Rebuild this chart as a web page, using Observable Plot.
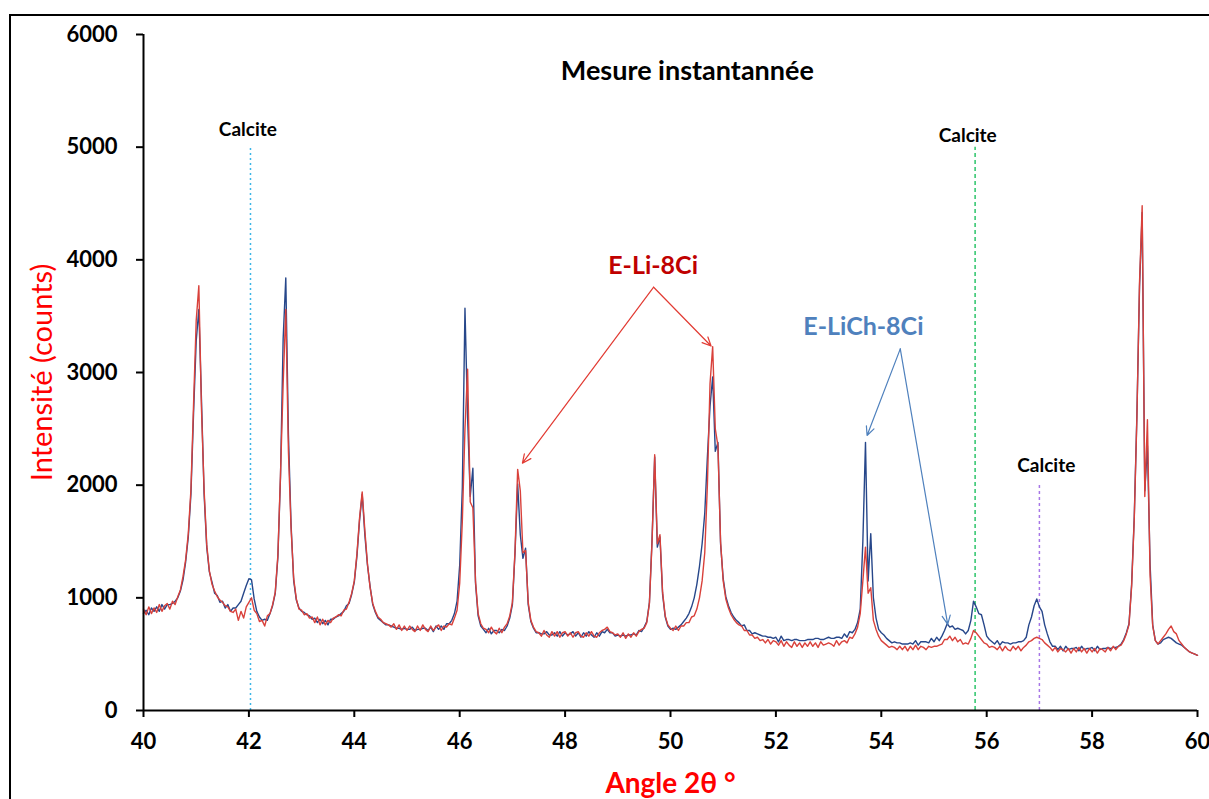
<!DOCTYPE html>
<html><head><meta charset="utf-8">
<script src="https://cdn.jsdelivr.net/npm/d3@7"></script>
<script src="https://cdn.jsdelivr.net/npm/@observablehq/plot@0.6"></script>
<style>
html,body{margin:0;padding:0;background:#fff;overflow:hidden;}
#wrap{position:relative;width:1209px;height:799px;}
#border{position:absolute;left:9px;top:14px;width:1400px;height:1000px;border:2px solid #000;box-sizing:border-box;pointer-events:none;}
</style></head>
<body><div id="wrap"></div>
<script>
// Scan grid (2θ, degrees)
const angleStart = 40, angleStep = 0.05;
// E-Li-8Ci (red) counts, one row per degree (40.00 ... 60.00)
const redCounts = [
 900, 850, 920, 860, 910, 870, 940, 880, 930, 950, 900, 970, 940, 1010, 1070, 1190, 1340, 1570, 1960, 2720,
 3460, 3770, 2680, 1960, 1470, 1240, 1120, 1060, 1010, 980, 960, 930, 920, 880, 870, 900, 800, 880, 820, 920,
 960, 1000, 890, 860, 790, 800, 750, 840, 860, 940, 1050, 1380, 2100, 2900, 3560, 2300, 1620, 1170, 990, 900,
 890, 850, 860, 820, 830, 780, 830, 760, 810, 760, 800, 780, 820, 830, 850, 840, 890, 900, 960, 1040,
 1150, 1390, 1710, 1940, 1600, 1300, 1090, 950, 880, 830, 810, 780, 770, 760, 740, 770, 720, 760, 710, 750,
 710, 750, 720, 700, 750, 710, 760, 720, 700, 750, 710, 740, 760, 710, 750, 740, 770, 760, 820, 890,
 1130, 1680, 2500, 3030, 1850, 1800, 1150, 860, 770, 730, 720, 690, 740, 700, 680, 730, 690, 740, 770, 840,
 960, 1420, 2140, 1950, 1400, 1420, 960, 800, 740, 700, 690, 660, 710, 670, 650, 700, 660, 700, 650, 690,
 700, 660, 690, 650, 690, 700, 660, 650, 690, 660, 700, 660, 650, 690, 710, 720, 740, 700, 690, 670,
 680, 650, 690, 640, 680, 650, 690, 660, 700, 720, 730, 780, 950, 1500, 2270, 1480, 1560, 1050, 840, 760,
 730, 710, 750, 710, 750, 750, 780, 780, 830, 840, 900, 1000, 1150, 1400, 2000, 2900, 3230, 2500, 2350, 1500,
 1150, 990, 910, 850, 810, 780, 760, 750, 710, 710, 670, 670, 640, 650, 620, 630, 600, 630, 590, 620,
 610, 580, 620, 570, 610, 580, 560, 610, 570, 600, 560, 600, 570, 610, 570, 600, 560, 610, 580, 590,
 600, 590, 570, 620, 580, 610, 620, 600, 650, 640, 680, 740, 860, 1150, 1450, 1040, 1090, 800, 720, 660,
 620, 600, 580, 560, 570, 560, 540, 570, 540, 570, 530, 570, 540, 580, 540, 570, 560, 540, 570, 560,
 570, 570, 580, 590, 630, 630, 660, 620, 650, 610, 630, 590, 600, 590, 640, 710, 690, 660, 630, 600,
 590, 560, 570, 560, 540, 570, 530, 570, 540, 530, 570, 540, 570, 530, 560, 580, 610, 620, 640, 650,
 640, 630, 600, 580, 560, 530, 560, 520, 550, 540, 520, 550, 510, 550, 520, 560, 520, 550, 510, 550,
 520, 550, 510, 550, 540, 520, 560, 530, 570, 540, 570, 580, 620, 680, 760, 1100, 1700, 2600, 3800, 4480,
 1900, 2580, 1200, 750, 620, 590, 620, 650, 680, 720, 750, 700, 680, 620, 590, 560, 540, 520, 510, 500,
 490
];
// E-LiCh-8Ci (dark blue) counts
const blueCounts = [
 860, 890, 850, 910, 880, 920, 880, 940, 900, 940, 940, 950, 970, 1000, 1060, 1160, 1320, 1540, 1920, 2640,
 3280, 3560, 2760, 1920, 1450, 1230, 1140, 1040, 1020, 960, 970, 910, 940, 880, 910, 910, 940, 970, 1040, 1110,
 1170, 1160, 990, 880, 830, 800, 810, 800, 860, 930, 1040, 1360, 2080, 3300, 3840, 2450, 1650, 1150, 980, 910,
 880, 870, 850, 840, 810, 820, 780, 810, 770, 800, 760, 810, 810, 830, 840, 860, 880, 930, 950, 1030,
 1140, 1370, 1690, 1920, 1560, 1290, 1100, 940, 870, 820, 800, 780, 760, 760, 750, 740, 730, 730, 720, 730,
 720, 720, 740, 710, 720, 720, 730, 730, 710, 740, 700, 750, 720, 750, 720, 770, 770, 800, 860, 970,
 1290, 1980, 3570, 2600, 1900, 2150, 1130, 840, 750, 720, 690, 730, 680, 710, 710, 690, 720, 710, 750, 820,
 940, 1400, 2010, 1560, 1350, 1440, 940, 790, 730, 690, 690, 680, 680, 700, 670, 670, 690, 660, 700, 660,
 690, 670, 680, 700, 660, 690, 650, 690, 660, 700, 670, 650, 690, 660, 700, 690, 720, 690, 690, 660,
 670, 660, 670, 660, 670, 670, 680, 670, 710, 700, 740, 790, 960, 1520, 2250, 1450, 1540, 1030, 830, 750,
 720, 730, 720, 740, 760, 790, 820, 860, 920, 1000, 1120, 1280, 1480, 1750, 2250, 2700, 2960, 2300, 2380, 1480,
 1170, 1010, 930, 870, 830, 800, 780, 750, 760, 710, 710, 680, 690, 680, 670, 660, 660, 650, 650, 640,
 650, 610, 660, 620, 630, 630, 620, 630, 630, 620, 620, 620, 630, 630, 630, 640, 640, 630, 630, 640,
 650, 640, 640, 650, 650, 640, 680, 650, 700, 690, 720, 780, 900, 1500, 2380, 1150, 1570, 1000, 820, 720,
 690, 670, 640, 620, 600, 610, 600, 600, 590, 590, 590, 600, 590, 620, 580, 610, 610, 610, 600, 640,
 610, 650, 620, 660, 710, 770, 740, 750, 720, 730, 720, 710, 680, 710, 800, 970, 920, 860, 850, 760,
 660, 630, 610, 590, 620, 580, 610, 600, 600, 590, 600, 600, 610, 610, 620, 650, 760, 830, 930, 990,
 920, 880, 760, 680, 610, 570, 570, 540, 570, 530, 570, 540, 550, 550, 560, 530, 570, 540, 550, 550,
 560, 530, 570, 540, 550, 550, 560, 550, 560, 560, 570, 590, 630, 690, 770, 1120, 1720, 2620, 3760, 4420,
 1950, 2350, 1300, 760, 620, 590, 600, 630, 640, 650, 640, 620, 600, 590, 580, 560, 540, 520, 510, 500,
 490
];
const xTicks = [40, 42, 44, 46, 48, 50, 52, 54, 56, 58, 60];
const yTicks = [0, 1000, 2000, 3000, 4000, 5000, 6000];

// Calcite reference lines and labels
const calciteAngles = [42.03, 55.78, 57.0];
const calciteTops = [4990, 5000, 2000];
const calciteLabels = [
  {angle: 41.98, counts: 5157, text: "Calcite"},
  {angle: 55.64, counts: 5103, text: "Calcite"},
  {angle: 57.13, counts: 2170, text: "Calcite"}
];
const titleText = [{angle: 50.32, counts: 5671, text: "Mesure instantannée"}];
const seriesLabels = [
  {angle: 49.67, counts: 3941, text: "E-Li-8Ci"},
  {angle: 53.66, counts: 3408, text: "E-LiCh-8Ci"}
];
const redArrows = [
  {x1: 49.68, y1: 3757, x2: 47.19, y2: 2195},
  {x1: 49.68, y1: 3757, x2: 50.77, y2: 3235}
];
const blueArrows = [
  {x1: 54.36, y1: 3210, x2: 53.73, y2: 2441},
  {x1: 54.36, y1: 3210, x2: 55.26, y2: 765}
];

const scan = redCounts.map((r, i) => ({
  angle: +(angleStart + i * angleStep).toFixed(2),
  red: r,
  blue: blueCounts[i]
}));

const FONT = "Lato, 'Open Sans', sans-serif";
const calciteStyles = [
  {stroke: "#3BB6E8", dash: "2,3"},
  {stroke: "#2CC46A", dash: "4,3"},
  {stroke: "#A777E6", dash: "3,3"}
];

const chart = Plot.plot({
  width: 1209,
  height: 799,
  marginLeft: 143,
  marginRight: 12,
  marginTop: 34,
  marginBottom: 89,
  x: {domain: [40, 60]},
  y: {domain: [0, 6000]},
  style: {fontFamily: FONT, background: "transparent", color: "#000"},
  marks: [
    ...calciteAngles.map((a, i) => Plot.ruleX([a], {
      y1: 0, y2: calciteTops[i], stroke: calciteStyles[i].stroke,
      strokeWidth: 1.5, strokeDasharray: calciteStyles[i].dash
    })),
    Plot.line(scan, {x: "angle", y: "blue", stroke: "#27478A", strokeWidth: 1.4}),
    Plot.line(scan, {x: "angle", y: "red", stroke: "#D9413B", strokeWidth: 1.4}),
    Plot.ruleY([0], {stroke: "#000", strokeWidth: 2}),
    Plot.ruleX([40], {stroke: "#000", strokeWidth: 2}),
    Plot.axisX({ticks: xTicks, tickSize: 7, tickPadding: 16, fontSize: 22, fontWeight: "bold",
      strokeWidth: 2, label: null, tickFormat: "d"}),
    Plot.axisY({ticks: yTicks, tickSize: 7, tickPadding: 19, fontSize: 22, fontWeight: "bold",
      strokeWidth: 2, label: null, tickFormat: "d"}),
    Plot.text(calciteLabels, {x: "angle", y: "counts", text: "text", fontSize: 19, fontWeight: "bold", fill: "#000"}),
    Plot.text(titleText, {x: "angle", y: "counts", text: "text", fontSize: 27, fontWeight: "bold", fill: "#000"}),
    Plot.text(seriesLabels, {x: "angle", y: "counts", text: "text", fontSize: 25, fontWeight: "bold",
      fill: (d, i) => i === 0 ? "#C00000" : "#4F81BD"}),
    Plot.arrow(redArrows, {x1: "x1", y1: "y1", x2: "x2", y2: "y2", stroke: "#E23B33", strokeWidth: 1.2, headLength: 12, headAngle: 50}),
    Plot.arrow(blueArrows, {x1: "x1", y1: "y1", x2: "x2", y2: "y2", stroke: "#4F81BD", strokeWidth: 1.2, headLength: 12, headAngle: 50}),
    Plot.text(["Intensité (counts)"], {frameAnchor: "left", rotate: -90, dx: -101, textAnchor: "middle",
      lineAnchor: "middle", fill: "#FF0000", fontSize: 29}),
    Plot.text(["Angle 2θ °"], {frameAnchor: "bottom", dy: 74, lineAnchor: "middle", textAnchor: "middle",
      fill: "#FF0000", fontSize: 28, fontWeight: "bold"})
  ]
});
const wrap = document.getElementById("wrap");
wrap.appendChild(chart);
const border = document.createElement("div");
border.id = "border";
wrap.appendChild(border);
</script>
</body></html>
